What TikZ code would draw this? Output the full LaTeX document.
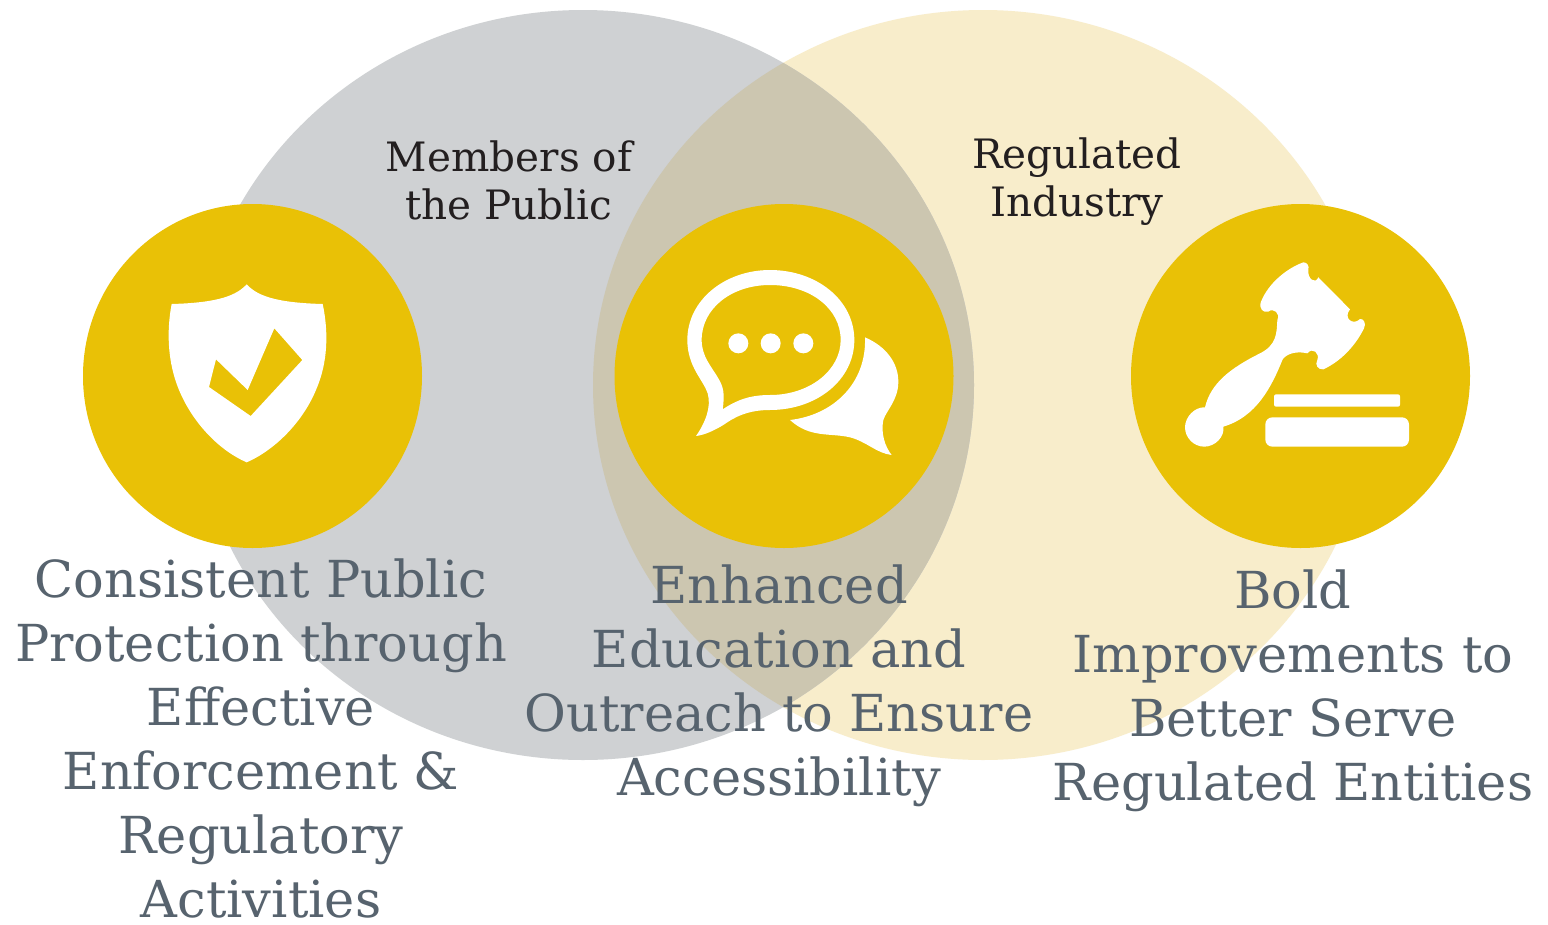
\documentclass[tikz,border=0pt]{standalone}
\usepackage{fontspec}
\setmainfont{DejaVu Serif}
\definecolor{greyc}{HTML}{CFD1D3}
\definecolor{creamc}{HTML}{F8EDCB}
\definecolor{overlapc}{HTML}{CCC6B0}
\definecolor{goldc}{HTML}{E9C106}
\definecolor{bodytext}{HTML}{57636E}
\definecolor{labeltext}{HTML}{231F20}
\tikzset{
  goldcircle/.style={fill=goldc,draw=none},
  bodylabel/.style={anchor=north,inner sep=0pt,align=center,text=bodytext,font=\fontsize{51}{64}\selectfont},
  setlabel/.style={anchor=north,inner sep=0pt,align=center,text=labeltext,font=\fontsize{40.5}{48}\selectfont},
  iconscale/.style={x=0.33333pt,y=-0.33333pt}
}
\begin{document}
\begin{tikzpicture}[x=1pt,y=-1pt]
\useasboundingbox (0,0) rectangle (1548,924);
\fill[white] (0,0) rectangle (1548,924);
% set ellipses
\fill[creamc] (983,385) ellipse [x radius=390,y radius=375];
\fill[greyc] (583,385) ellipse [x radius=391,y radius=375];
\begin{scope}
  \clip (583,385) ellipse [x radius=391,y radius=375];
  \fill[overlapc] (983,385) ellipse [x radius=390,y radius=375];
\end{scope}
% gold discs
\fill[goldcircle] (252.5,376) ellipse [x radius=169.5,y radius=172];
\fill[goldcircle] (784,376) ellipse [x radius=169.5,y radius=172];
\fill[goldcircle] (1300.5,376) ellipse [x radius=169.5,y radius=172];
% shield
\begin{scope}[shift={(140,260)},iconscale]
  \fill[white,even odd rule]
    (320,73) .. controls (290,105) and (240,128) .. (95,132)
    .. controls (78,220) and (85,310) .. (115,385)
    .. controls (155,485) and (235,570) .. (320,607)
    .. controls (405,570) and (490,485) .. (530,385)
    .. controls (562,310) and (567,220) .. (548,132)
    .. controls (400,128) and (350,105) .. (320,73) -- cycle
    (403,205) -- (487,300) -- (332,468) -- (207,381) -- (228,298) -- (323,390) -- cycle;
\end{scope}
% chat bubbles
\begin{scope}[shift={(670,250)},iconscale]
  \fill[white,even odd rule]
    (78,558) .. controls (105,520) and (125,470) .. (113,430)
    .. controls (100,390) and (52,350) .. (52,270)
    .. controls (52,150) and (165,60) .. (300,60)
    .. controls (440,60) and (553,150) .. (553,270)
    .. controls (553,390) and (440,480) .. (300,480)
    .. controls (235,480) and (195,500) .. (160,525)
    .. controls (135,540) and (105,555) .. (78,558) -- cycle
    (158,478) .. controls (165,430) and (160,410) .. (145,385)
    .. controls (125,350) and (95,320) .. (95,270)
    .. controls (95,175) and (185,105) .. (300,105)
    .. controls (420,105) and (512,175) .. (512,270)
    .. controls (512,360) and (420,435) .. (300,435)
    .. controls (240,435) and (200,450) .. (158,478) -- cycle;
  \fill[white] (205,280) circle [radius=30];
  \fill[white] (302,280) circle [radius=30];
  \fill[white] (400,280) circle [radius=30];
  \fill[white]
    (585,262) .. controls (650,290) and (685,340) .. (685,395)
    .. controls (685,450) and (650,480) .. (640,510)
    .. controls (632,550) and (645,590) .. (665,615)
    .. controls (620,610) and (590,575) .. (540,562)
    .. controls (480,548) and (420,565) .. (360,510)
    .. controls (490,495) and (590,400) .. (585,262) -- cycle;
\end{scope}
% gavel
\begin{scope}[shift={(1170,250)},iconscale]
  \fill[white]
    (400,37) .. controls (412,37) and (418,48) .. (415,60)
    .. controls (412,85) and (435,105) .. (445,82)
    -- (540,178)
    .. controls (518,205) and (550,228) .. (570,207)
    .. controls (580,205) and (590,220) .. (582,235)
    .. controls (555,290) and (510,335) .. (460,358)
    .. controls (445,360) and (433,345) .. (442,330)
    .. controls (450,310) and (428,290) .. (412,310)
    .. controls (390,305) and (355,305) .. (338,328)
    .. controls (305,410) and (260,500) .. (160,530)
    .. controls (165,560) and (135,590) .. (103,590)
    .. controls (70,590) and (45,562) .. (45,532)
    .. controls (45,500) and (75,470) .. (105,472)
    .. controls (122,400) and (180,355) .. (270,310)
    .. controls (320,285) and (320,250) .. (322,210)
    .. controls (332,190) and (310,172) .. (295,185)
    .. controls (280,190) and (265,175) .. (273,155)
    .. controls (295,100) and (350,55) .. (400,37) -- cycle;
  \fill[white,rounded corners=2] (312,433) rectangle (690,470);
  \fill[white,rounded corners=7] (286,502) rectangle (717,590);
\end{scope}
% labels
\node[setlabel] (members) at (509,141) {Members of\\the Public};
\node[setlabel] (regulated) at (1077,138) {Regulated\\Industry};
\node[bodylabel] (consistent) at (261,559) {Consistent Public\\Protection through\\Effective\\Enforcement \&\\Regulatory\\Activities};
\node[bodylabel] (enhanced) at (779,565) {Enhanced\\Education and\\Outreach to Ensure\\Accessibility};
\node[bodylabel] (bold) at (1293,570) {Bold\\Improvements to\\Better Serve\\Regulated Entities};
\end{tikzpicture}
\end{document}
